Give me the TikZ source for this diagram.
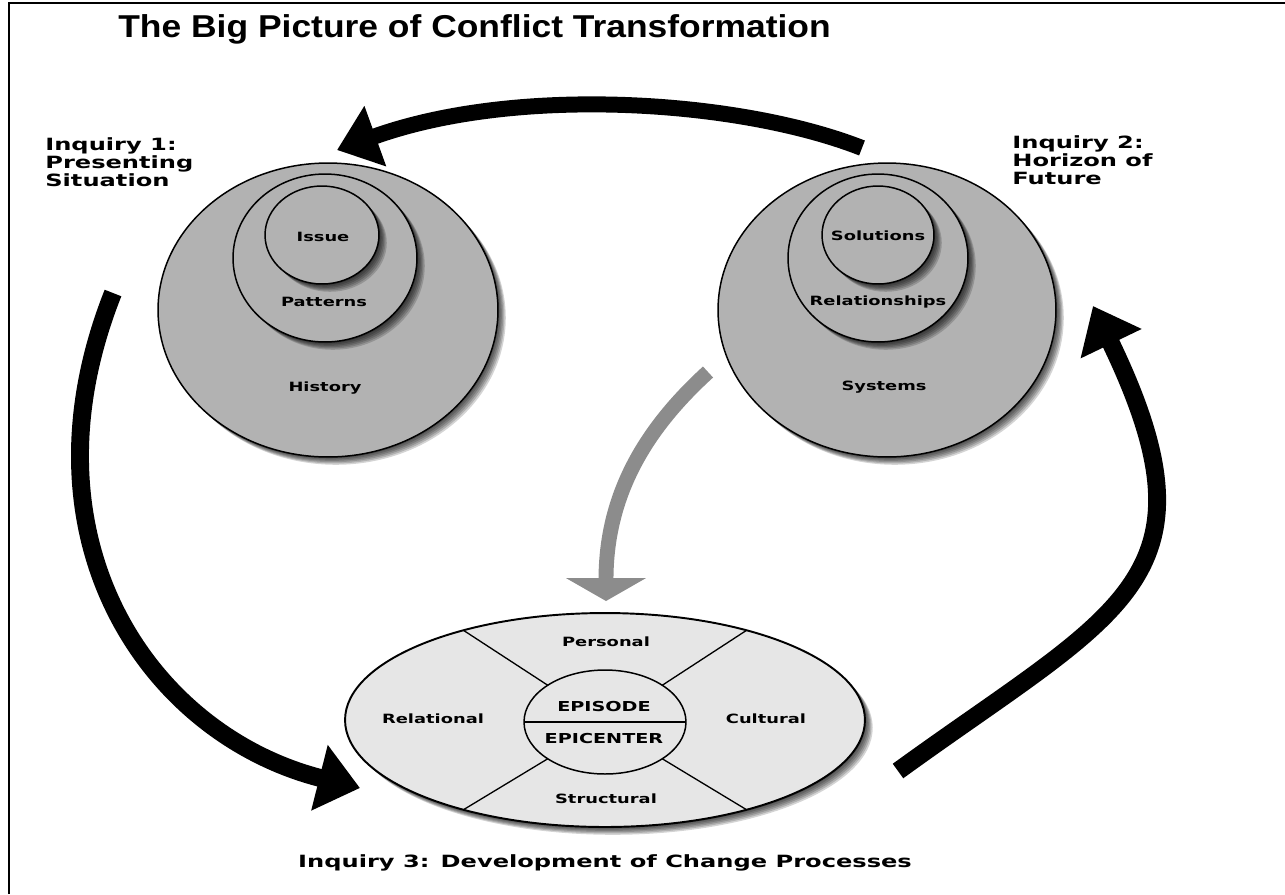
\documentclass[tikz,border=0pt]{standalone}
\usepackage{fontspec}
\usepackage{graphicx}
\usetikzlibrary{shapes.geometric,arrows.meta}
\newfontfamily\labfont{DejaVu Sans}
\newfontfamily\titlefont{Liberation Sans}
\definecolor{circfill}{RGB}{178,178,178}
\definecolor{ellfill}{RGB}{230,230,230}
\definecolor{greyarrow}{RGB}{140,140,140}
\newcommand{\mystretch}[2]{\scalebox{#1}[1]{#2}}
\newcommand{\ellshadow}[4]{%
  \foreach \k in {1,...,6}{\fill[black,opacity=0.17] ({#1+\k*1.3},{#2+\k*1.3}) ellipse [x radius=#3, y radius=#4];}}
\begin{document}
\begin{tikzpicture}[x=0.02cm,y=-0.02cm,
  titletext/.style={font=\titlefont\bfseries\fontsize{18}{21}\selectfont, inner sep=0, anchor=base west},
  inqtext/.style={font=\labfont\bfseries\fontsize{9.6}{10.4}\selectfont, inner sep=0, anchor=base west},
  captext/.style={font=\labfont\bfseries\fontsize{9.6}{10.4}\selectfont, inner sep=0, anchor=base},
  ringtext/.style={font=\labfont\bfseries\fontsize{7.26}{8}\selectfont, inner sep=0, anchor=base},
  epitext/.style={font=\labfont\bfseries\fontsize{7.8}{9}\selectfont, inner sep=0, anchor=base},
  ring/.style={ellipse, fill=circfill, draw=black, line width=0.85pt, inner sep=0, outer sep=0},
  disc/.style={ellipse, fill=ellfill, draw=black, line width=1.1pt, inner sep=0, outer sep=0},
  core/.style={ellipse, fill=ellfill, draw=black, line width=0.85pt, inner sep=0, outer sep=0},
  divider/.style={draw=black, line width=0.75pt},
  toparrow/.style={draw=black, line width=9.1pt, -{Triangle[length=23.2pt,width=35.1pt]}},
  sidearrow/.style={draw=black, line width=10.2pt, -{Triangle[length=23.8pt,width=37pt]}},
  greyflow/.style={draw=greyarrow, line width=8.5pt, -{Triangle[length=13pt,width=44.8pt]}},
  frame/.style={draw=black, line width=1.5pt}
]
\useasboundingbox (0,0) rectangle (1285,894);
\fill[white] (0,0) rectangle (1285,894);
\draw[frame] (9,894) -- (9,3) -- (1285,3);

% title
\node[titletext] (title) at (118,37) {\mystretch{1.12}{The Big Picture of Conflict Transformation}};

% inquiry labels
\node[inqtext] (inqAa) at (45,150) {\mystretch{1.43}{Inquiry 1:}};
\node[inqtext] (inqAb) at (45,168.3) {\mystretch{1.43}{Presenting}};
\node[inqtext] (inqAc) at (45,186.6) {\mystretch{1.43}{Situation}};
\node[inqtext] (inqBa) at (1012,148) {\mystretch{1.43}{Inquiry 2:}};
\node[inqtext] (inqBb) at (1012,166.3) {\mystretch{1.43}{Horizon of}};
\node[inqtext] (inqBc) at (1012,184.6) {\mystretch{1.43}{Future}};

% left circles
\ellshadow{328}{310}{3.4cm}{2.94cm}
\node[ring, minimum width=6.8cm, minimum height=5.88cm] (history) at (328,310) {};
\ellshadow{325}{258}{1.84cm}{1.68cm}
\node[ring, minimum width=3.68cm, minimum height=3.36cm] (patterns) at (325,258) {};
\ellshadow{322}{235}{1.14cm}{0.98cm}
\node[ring, minimum width=2.28cm, minimum height=1.96cm] (issue) at (322,235) {};
\node[ringtext] (issueT) at (323,241.6) {\mystretch{1.4}{Issue}};
\node[ringtext] (patternsT) at (324,306.6) {\mystretch{1.4}{Patterns}};
\node[ringtext] (historyT) at (325,391.6) {\mystretch{1.4}{History}};

% right circles
\ellshadow{887}{310}{3.38cm}{2.94cm}
\node[ring, minimum width=6.76cm, minimum height=5.88cm] (systems) at (887,310) {};
\ellshadow{878}{258}{1.8cm}{1.68cm}
\node[ring, minimum width=3.6cm, minimum height=3.36cm] (relations) at (878,258) {};
\ellshadow{878}{235}{1.12cm}{0.98cm}
\node[ring, minimum width=2.24cm, minimum height=1.96cm] (solutions) at (878,235) {};
\node[ringtext] (solutionsT) at (878,240.6) {\mystretch{1.4}{Solutions}};
\node[ringtext] (relationsT) at (878,305.6) {\mystretch{1.4}{Relationships}};
\node[ringtext] (systemsT) at (884,390.6) {\mystretch{1.4}{Systems}};

% bottom ellipse
\ellshadow{605}{720}{5.2cm}{2.14cm}
\node[disc, minimum width=10.4cm, minimum height=4.28cm] (dims) at (605,720) {};
\foreach \a/\b in {57/45,123/135,237/225,303/315}
  \draw[divider] ({605+260*cos(\a)},{720-107*sin(\a)}) -- ({605+81*cos(\b)},{722-52*sin(\b)});
\node[core, minimum width=3.24cm, minimum height=2.08cm] (epi) at (605,722) {};
\draw[divider] (epi.west) -- (epi.east);
\node[epitext] (episodeT) at (604,711) {\mystretch{1.4}{EPISODE}};
\node[epitext] (epicenterT) at (604,743) {\mystretch{1.4}{EPICENTER}};
\node[ringtext] (personalT) at (606,646.6) {\mystretch{1.4}{Personal}};
\node[ringtext] (relationalT) at (433,723.6) {\mystretch{1.4}{Relational}};
\node[ringtext] (culturalT) at (766,723.6) {\mystretch{1.4}{Cultural}};
\node[ringtext] (structuralT) at (606,803.6) {\mystretch{1.4}{Structural}};

% caption
\node[captext] (caption) at (605,867) {\mystretch{1.43}{Inquiry 3: Development of Change Processes}};

% arrows
\coordinate (topTail) at (862,148);
\coordinate (topTip) at (337,150);
\coordinate (leftTail) at (113,293);
\coordinate (leftTip) at (360,788);
\coordinate (rightTail) at (898,771);
\coordinate (rightTip) at (1093,306);
\coordinate (greyTail) at (708,372);
\coordinate (greyTip) at (606,601);
\draw[toparrow] (topTail) .. controls (740,100) and (517,85) .. (topTip);
\draw[sidearrow] (leftTail) .. controls (15,540) and (150,735) .. (leftTip);
\draw[sidearrow] (rightTail) .. controls (1120,610) and (1225,580) .. (rightTip);
\draw[greyflow] (greyTail) .. controls (650,425) and (606,490) .. (greyTip);
\end{tikzpicture}
\end{document}
